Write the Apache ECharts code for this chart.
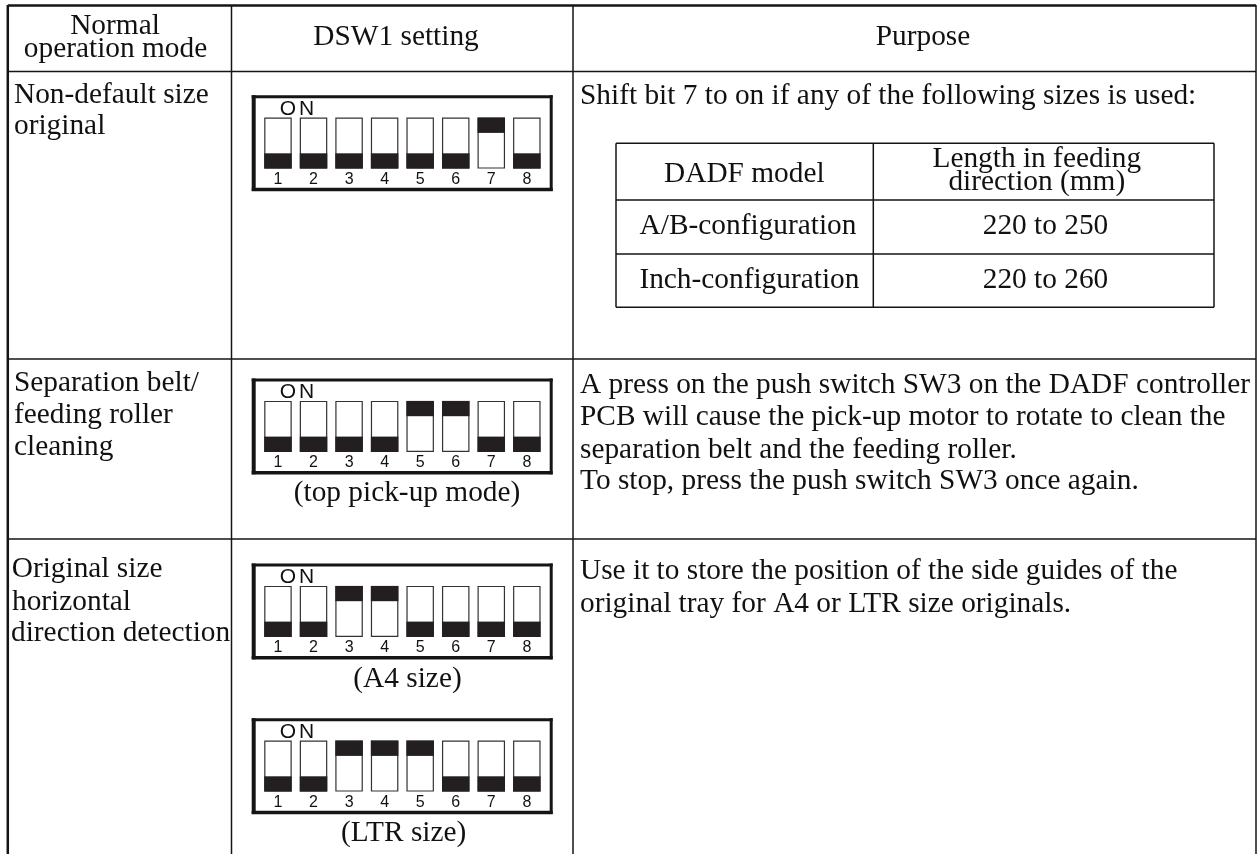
<!DOCTYPE html>
<html>
<head>
<meta charset="utf-8">
<style>
  html, body { margin: 0; padding: 0; background: #fff; }
  #chart { width: 1258px; height: 854px; }
</style>
<script src="https://cdn.jsdelivr.net/npm/echarts@6/dist/echarts.min.js"></script>
</head>
<body>
<div id="chart"></div>
<script>
// switch state per bit, 1 = on
const bits = ['1', '2', '3', '4', '5', '6', '7', '8']
const nonDefaultBits = [0, 0, 0, 0, 0, 0, 1, 0]
const topPickupBits = [0, 0, 0, 0, 1, 1, 0, 0]
const a4Bits = [0, 0, 1, 1, 0, 0, 0, 0]
const ltrBits = [0, 0, 1, 1, 1, 0, 0, 0]

const onLetters = ['O', 'N']
const headerLines = ['Normal', 'operation mode', 'DSW1 setting', 'Purpose']
const modeLines = ['Non-default size', 'original', 'Separation belt/', 'feeding roller', 'cleaning',
  'Original size', 'horizontal', 'direction detection']
const captionLines = ['(top pick-up mode)', '(A4 size)', '(LTR size)']
const purposeLines = ['Shift bit 7 to on if any of the following sizes is used:',
  'A press on the push switch SW3 on the DADF controller',
  'PCB will cause the pick-up motor to rotate to clean the',
  'separation belt and the feeding roller.',
  'To stop, press the push switch SW3 once again.',
  'Use it to store the position of the side guides of the',
  'original tray for A4 or LTR size originals.']
const dadfLines = ['DADF model', 'Length in feeding', 'direction (mm)',
  'A/B-configuration', '220 to 250', 'Inch-configuration', '220 to 260']

// layout, page pixels
const boxTops = [96, 379.3, 564.3, 719]
const boxLeft = 251.7
const boxWidth = 301
const boxHeight = 95
const sliderShare = 0.3
const serifSize = 29
const serifScale = 1.012
const sansSize = 21
const onOffsets = [28, 47.4]

// y here is the text baseline
const headerSpots = [[115, 36, 'center'], [115.5, 59.3, 'center'], [396, 47.7, 'center'], [923, 47.7, 'center']]
const modeSpots = [[14, 105], [14, 136.7], [14, 393], [14, 425], [14, 457], [11.7, 579], [12, 612], [11, 643.5]]
const captionSpots = [[407, 503, 'center'], [407.5, 689, 'center'], [403.7, 843, 'center']]
const purposeSpots = [[580, 106.7], [580, 395.7], [580, 427.7], [580, 460], [580, 491.7], [580, 581.7], [580, 614]]
const dadfSpots = [[744.3, 184, 'center'], [1036.8, 169, 'center'], [1036.8, 192.7, 'center'],
  [748, 236.5, 'center'], [1045.5, 236.5, 'center'], [749.4, 290.7, 'center'], [1045.5, 290.7, 'center']]

// x1, y1, x2, y2, width
const tableRules = [
  [7.8, 5.5, 1256, 5.5, 2.5], [7.8, 5, 7.8, 854, 2.5], [1256, 5, 1256, 854, 1.5],
  [231.5, 5, 231.5, 854, 1.5], [573, 5, 573, 854, 1.5],
  [7, 71.5, 1256, 71.5, 1.5], [7, 359, 1256, 359, 1.5], [7, 539, 1256, 539, 1.5],
  [616, 143.3, 1214, 143.3, 1.5], [616, 200, 1214, 200, 1.5], [616, 254, 1214, 254, 1.5], [616, 307.3, 1214, 307.3, 1.5],
  [616, 143.3, 616, 307.3, 1.5], [1214, 143.3, 1214, 307.3, 1.5], [873.3, 143.3, 873.3, 307.3, 1.5]
]

function zipText (lines, spots) {
  return lines.map((line, i) => [spots[i][0], spots[i][1], line, spots[i][2] || 'left'])
}
const serifTexts = [].concat(
  zipText(headerLines, headerSpots),
  zipText(modeLines, modeSpots),
  zipText(captionLines, captionSpots),
  zipText(purposeLines, purposeSpots),
  zipText(dadfLines, dadfSpots)
)

const frameRules = []
const onTexts = []
boxTops.forEach(top => {
  frameRules.push([boxLeft, top + 0.7, boxLeft + boxWidth, top + 0.7, 3])
  frameRules.push([boxLeft, top + boxHeight - 1.5, boxLeft + boxWidth, top + boxHeight - 1.5, 3.5])
  frameRules.push([boxLeft + 2, top - 0.8, boxLeft + 2, top + boxHeight, 4])
  frameRules.push([boxLeft + boxWidth - 1.5, top - 0.8, boxLeft + boxWidth - 1.5, top + boxHeight, 3])
  onLetters.forEach((letter, i) => onTexts.push([boxLeft + onOffsets[i], top + 20.5, letter]))
})

function renderRule (params, api) {
  const a = api.coord([api.value(0), api.value(1)])
  const b = api.coord([api.value(2), api.value(3)])
  return {
    type: 'line',
    shape: { x1: a[0], y1: a[1], x2: b[0], y2: b[1] },
    style: { stroke: '#151515', lineWidth: api.value(4) }
  }
}

function renderSerif (params, api) {
  const p = api.coord([api.value(0), api.value(1)])
  return {
    type: 'text',
    x: p[0],
    y: p[1] - serifSize * 0.34,
    scaleX: serifScale,
    style: {
      text: api.value(2),
      fill: '#111',
      font: serifSize + 'px "Liberation Serif"',
      align: api.value(3),
      verticalAlign: 'middle'
    }
  }
}

function renderOn (params, api) {
  const p = api.coord([api.value(0), api.value(1)])
  return {
    type: 'text',
    x: p[0],
    y: p[1] - sansSize * 0.35,
    style: {
      text: api.value(2),
      fill: '#111',
      font: sansSize + 'px "Liberation Sans"',
      align: 'left',
      verticalAlign: 'middle'
    }
  }
}

const grids = [{ left: 0, top: 0, width: 1258, height: 854 }]
const xAxes = [{ type: 'value', gridIndex: 0, min: 0, max: 1258, show: false }]
const yAxes = [{ type: 'value', gridIndex: 0, min: 0, max: 854, inverse: true, show: false }]
const series = [
  { type: 'custom', xAxisIndex: 0, yAxisIndex: 0, z: 1, silent: true, data: tableRules.concat(frameRules), renderItem: renderRule },
  { type: 'custom', xAxisIndex: 0, yAxisIndex: 0, z: 3, silent: true, data: serifTexts, renderItem: renderSerif },
  { type: 'custom', xAxisIndex: 0, yAxisIndex: 0, z: 3, silent: true, data: onTexts, renderItem: renderOn }
]

const switchSets = [nonDefaultBits, topPickupBits, a4Bits, ltrBits]
switchSets.forEach((set, i) => {
  const n = i + 1
  grids.push({ left: 260.2, top: boxTops[i] + 21.6, width: 284.4, height: 51 })
  xAxes.push({
    type: 'category',
    gridIndex: n,
    data: bits,
    axisLine: { show: false },
    axisTick: { show: false },
    axisLabel: { interval: 0, margin: 3, color: '#111', fontSize: 16, fontFamily: '"Liberation Sans"' }
  })
  yAxes.push({ type: 'value', gridIndex: n, min: 0, max: 1, show: false })
  const common = { type: 'bar', xAxisIndex: n, yAxisIndex: n, barWidth: 27.5, barGap: '-100%', silent: true }
  series.push(Object.assign({}, common, {
    name: 'slot' + n,
    data: set.map(() => 1),
    itemStyle: { color: '#fff', borderColor: '#333', borderWidth: 1.2 }
  }))
  series.push(Object.assign({}, common, {
    name: 'gap' + n,
    stack: 'slider' + n,
    data: set.map(v => v ? 1 - sliderShare : 0),
    itemStyle: { color: 'transparent' }
  }))
  series.push(Object.assign({}, common, {
    name: 'slider' + n,
    stack: 'slider' + n,
    data: set.map(() => sliderShare),
    itemStyle: { color: '#231f20' }
  }))
})

const chart = echarts.init(document.getElementById('chart'))
chart.setOption({
  animation: false,
  backgroundColor: '#fff',
  grid: grids,
  xAxis: xAxes,
  yAxis: yAxes,
  series: series
})
</script>
</body>
</html>
